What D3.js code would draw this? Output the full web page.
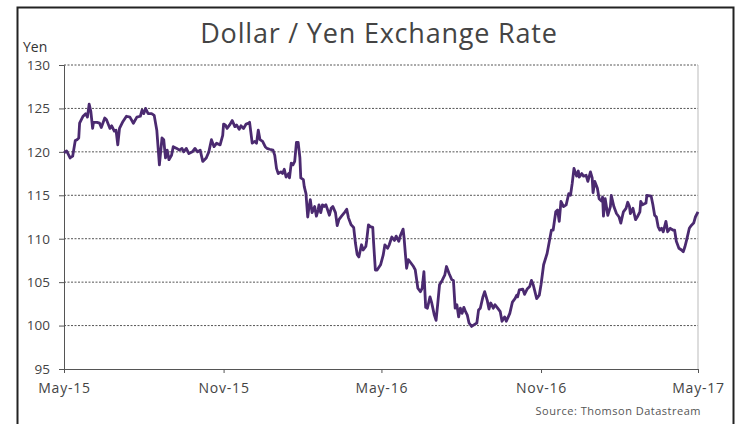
<!DOCTYPE html>
<html>
<head>
<meta charset="utf-8">
<script src="https://cdn.jsdelivr.net/npm/d3@7"></script>
<style>
  body { margin: 0; background: #fff; }
  svg { display: block; font-family: "Open Sans", Lato, sans-serif; }
</style>
</head>
<body>
<div id="chart"></div>
<script>
// USD/JPY
const dates = [
  "2015-05-01","2015-05-04","2015-05-08","2015-05-11","2015-05-14","2015-05-16","2015-05-18","2015-05-19",
  "2015-05-23","2015-05-26","2015-05-28","2015-05-30","2015-06-01","2015-06-03","2015-06-04","2015-06-08",
  "2015-06-11","2015-06-13","2015-06-17","2015-06-19","2015-06-23","2015-06-25","2015-06-28","2015-06-30",
  "2015-07-02","2015-07-04","2015-07-08","2015-07-12","2015-07-16","2015-07-20","2015-07-24","2015-07-28",
  "2015-07-30","2015-08-01","2015-08-03","2015-08-06","2015-08-10","2015-08-13","2015-08-16","2015-08-19",
  "2015-08-22","2015-08-24","2015-08-26","2015-08-28","2015-08-30","2015-09-02","2015-09-04","2015-09-08",
  "2015-09-11","2015-09-14","2015-09-16","2015-09-19","2015-09-22","2015-09-26","2015-09-29","2015-10-02",
  "2015-10-05","2015-10-08","2015-10-12","2015-10-15","2015-10-18","2015-10-21","2015-10-24","2015-10-28",
  "2015-10-31","2015-11-01","2015-11-03","2015-11-05","2015-11-08","2015-11-11","2015-11-14","2015-11-16",
  "2015-11-19","2015-11-21","2015-11-24","2015-11-27","2015-11-30","2015-12-01","2015-12-04","2015-12-07",
  "2015-12-09","2015-12-11","2015-12-13","2015-12-16","2015-12-19","2015-12-21","2015-12-24","2015-12-28",
  "2015-12-30","2016-01-01","2016-01-03","2016-01-06","2016-01-08","2016-01-10","2016-01-12","2016-01-15",
  "2016-01-16","2016-01-18","2016-01-20","2016-01-22","2016-01-24","2016-01-26","2016-01-28","2016-01-29",
  "2016-02-01","2016-02-02","2016-02-04","2016-02-06","2016-02-07","2016-02-09","2016-02-11","2016-02-14",
  "2016-02-16","2016-02-18","2016-02-19","2016-02-21","2016-02-23","2016-02-25","2016-02-27","2016-02-29",
  "2016-03-02","2016-03-04","2016-03-06","2016-03-09","2016-03-11","2016-03-13","2016-03-16","2016-03-20",
  "2016-03-22","2016-03-24","2016-03-27","2016-03-30","2016-04-01","2016-04-03","2016-04-05","2016-04-08",
  "2016-04-10","2016-04-13","2016-04-14","2016-04-16","2016-04-18","2016-04-21","2016-04-22","2016-04-24",
  "2016-04-26","2016-04-30","2016-05-03","2016-05-05","2016-05-08","2016-05-10","2016-05-13","2016-05-16",
  "2016-05-18","2016-05-21","2016-05-23","2016-05-26","2016-05-27","2016-05-30","2016-06-01","2016-06-04",
  "2016-06-07","2016-06-09","2016-06-12","2016-06-15","2016-06-17","2016-06-19","2016-06-21","2016-06-23",
  "2016-06-26","2016-06-28","2016-07-01","2016-07-03","2016-07-05","2016-07-07","2016-07-10","2016-07-13",
  "2016-07-15","2016-07-18","2016-07-21","2016-07-23","2016-07-25","2016-07-27","2016-07-29","2016-07-31",
  "2016-08-02","2016-08-04","2016-08-06","2016-08-08","2016-08-10","2016-08-13","2016-08-16","2016-08-19",
  "2016-08-21","2016-08-23","2016-08-26","2016-08-28","2016-08-31","2016-09-02","2016-09-04","2016-09-07",
  "2016-09-09","2016-09-12","2016-09-15","2016-09-17","2016-09-20","2016-09-22","2016-09-26","2016-09-29",
  "2016-10-02","2016-10-04","2016-10-05","2016-10-07","2016-10-11","2016-10-13","2016-10-16","2016-10-19",
  "2016-10-21","2016-10-23","2016-10-27","2016-10-30","2016-11-01","2016-11-04","2016-11-08","2016-11-11",
  "2016-11-13","2016-11-15","2016-11-18","2016-11-20","2016-11-22","2016-11-24","2016-11-27","2016-11-30",
  "2016-12-03","2016-12-05","2016-12-07","2016-12-09","2016-12-12","2016-12-14","2016-12-15","2016-12-18",
  "2016-12-20","2016-12-23","2016-12-25","2016-12-28","2016-12-30","2016-12-31","2017-01-02","2017-01-05",
  "2017-01-07","2017-01-10","2017-01-11","2017-01-12","2017-01-14","2017-01-17","2017-01-20","2017-01-21",
  "2017-01-24","2017-01-27","2017-01-30","2017-02-01","2017-02-04","2017-02-07","2017-02-09","2017-02-11",
  "2017-02-12","2017-02-15","2017-02-18","2017-02-20","2017-02-23","2017-02-24","2017-02-26","2017-03-02",
  "2017-03-03","2017-03-08","2017-03-10","2017-03-12","2017-03-14","2017-03-16","2017-03-18","2017-03-20",
  "2017-03-22","2017-03-25","2017-03-27","2017-03-30","2017-04-02","2017-04-04","2017-04-06","2017-04-09",
  "2017-04-12","2017-04-14","2017-04-16","2017-04-18","2017-04-21","2017-04-23","2017-04-26","2017-04-28",
  "2017-05-01"
];
const yen = [
  119.9,120.1,119.3,119.5,121.3,121.4,121.6,123.3,
  124.1,124.4,124.0,125.5,124.6,122.7,123.4,123.4,
  123.3,122.8,123.9,123.7,122.7,123.0,122.4,122.5,
  120.8,122.7,123.5,124.1,124.0,123.3,124.0,124.1,
  124.8,124.4,125.0,124.4,124.4,124.2,122.5,118.5,
  121.6,121.4,119.3,120.2,119.1,119.6,120.6,120.4,
  120.2,120.4,120.0,120.4,119.8,120.0,120.4,120.0,
  120.2,118.9,119.3,120.0,121.4,120.6,121.0,120.8,
  121.9,123.2,123.1,122.7,123.1,123.6,122.9,123.1,
  122.6,123.0,122.7,123.2,123.3,123.4,121.0,121.2,
  121.0,122.5,121.4,121.2,120.6,120.4,120.3,120.2,
  119.6,118.1,117.5,117.7,117.5,118.0,117.1,117.5,
  117.0,118.7,118.5,118.9,121.1,121.1,119.3,117.0,
  116.8,116.0,115.2,112.5,113.3,114.5,113.0,113.7,
  112.6,113.3,113.9,113.0,113.9,113.7,113.9,113.3,
  112.7,113.5,113.7,113.0,111.5,112.2,112.6,113.1,
  113.4,112.4,111.6,111.3,109.5,108.2,107.9,109.3,
  108.7,109.1,109.8,111.6,111.4,111.3,109.5,106.4,
  106.4,107.0,108.1,109.3,108.9,109.3,110.2,109.8,
  110.3,109.7,110.4,111.1,110.2,106.6,107.6,107.2,
  106.8,106.4,104.3,103.9,104.3,106.2,102.1,102.0,
  103.3,102.6,101.2,100.6,102.6,104.7,105.2,105.8,
  106.8,106.0,105.3,105.2,102.0,102.4,101.0,102.0,
  101.4,102.1,101.6,101.2,100.3,99.9,100.1,100.3,
  101.8,102.0,103.3,103.9,102.9,101.9,102.6,102.0,
  102.4,102.0,101.6,100.5,101.0,100.5,101.4,102.7,
  103.1,103.5,103.3,104.1,104.2,103.6,104.2,104.5,
  105.2,104.7,103.1,103.5,104.7,107.0,108.3,109.9,
  111.0,111.0,113.1,113.3,112.0,114.3,113.7,113.9,
  115.2,115.0,116.4,118.1,117.2,117.8,117.1,117.5,
  117.2,117.3,116.6,117.7,117.0,115.3,116.6,115.8,
  114.6,114.3,114.8,112.6,114.6,112.7,113.7,115.0,
  113.7,112.9,112.5,111.8,113.1,113.5,114.2,113.7,
  112.9,113.5,112.2,112.5,113.1,114.3,113.9,114.1,
  115.0,114.9,113.9,112.7,112.5,111.4,111.0,111.2,
  110.8,112.0,110.8,111.2,111.0,111.0,109.7,108.9,
  108.7,108.5,109.1,109.9,111.2,111.5,111.8,112.5,
  113.1
];
const yTicks = [95, 100, 105, 110, 115, 120, 125, 130];
const xTickDates = ["2015-05-01","2015-11-01","2016-05-01","2016-11-01","2017-05-01"];

const parse = d3.timeParse("%Y-%m-%d");
const data = dates.map((d, i) => ({ date: parse(d), value: yen[i] }));

const W = 740, H = 424;
const margin = { top: 65, right: 42, bottom: 55, left: 64 };
const width = W - margin.left - margin.right;
const height = H - margin.top - margin.bottom;

const svg = d3.select("#chart").append("svg")
  .attr("width", W)
  .attr("height", H);

// outer frame
svg.append("rect")
  .attr("x", 17.5).attr("y", 7.5)
  .attr("width", 716).attr("height", 430)
  .attr("fill", "none")
  .attr("stroke", "#222")
  .attr("stroke-width", 2);

svg.append("text")
  .attr("x", 379).attr("y", 43)
  .attr("text-anchor", "middle")
  .style("font-size", "27px")
  .style("letter-spacing", "0.8px")
  .style("fill", "#444")
  .text("Dollar / Yen Exchange Rate");

svg.append("text")
  .attr("x", 23).attr("y", 52)
  .style("font-size", "14px")
  .style("fill", "#333")
  .text("Yen");

const g = svg.append("g")
  .attr("transform", `translate(${margin.left},${margin.top})`);

const x = d3.scaleTime()
  .domain([parse(xTickDates[0]), parse(xTickDates[xTickDates.length - 1])])
  .range([0, width]);

const y = d3.scaleLinear()
  .domain([95, 130])
  .range([height, 0]);

// gridlines
g.append("g")
  .selectAll("line")
  .data(yTicks.filter(t => t > 95))
  .enter().append("line")
  .attr("x1", 0).attr("x2", width)
  .attr("y1", d => y(d)).attr("y2", d => y(d))
  .attr("stroke", "#555")
  .attr("stroke-width", 1)
  .attr("stroke-dasharray", "2,1.5");

// right edge
g.append("line")
  .attr("x1", width).attr("x2", width)
  .attr("y1", 0).attr("y2", height)
  .attr("stroke", "#bbb");

const yAxis = g.append("g")
  .call(d3.axisLeft(y).tickValues(yTicks).tickSize(5).tickPadding(9));
yAxis.select(".domain").attr("stroke", "#555");
yAxis.selectAll(".tick line").attr("stroke", "#555");
yAxis.selectAll("text")
  .style("font-size", "13.5px")
  .style("font-family", "'Open Sans', sans-serif")
  .style("fill", "#444");

const xAxis = g.append("g")
  .attr("transform", `translate(0,${height})`)
  .call(d3.axisBottom(x)
    .tickValues(xTickDates.map(parse))
    .tickFormat(d3.timeFormat("%b-%y"))
    .tickSize(4).tickPadding(10));
xAxis.select(".domain").attr("stroke", "#555");
xAxis.selectAll(".tick line").attr("stroke", "#555");
xAxis.selectAll("text")
  .style("font-size", "14px")
  .style("letter-spacing", "0.8px")
  .style("font-family", "'Open Sans', sans-serif")
  .style("fill", "#444");

const line = d3.line()
  .x(d => x(d.date))
  .y(d => y(d.value));

g.append("path")
  .datum(data)
  .attr("fill", "none")
  .attr("stroke", "#4b2a70")
  .attr("stroke-width", 2.8)
  .attr("stroke-linejoin", "round")
  .attr("d", line);

svg.append("text")
  .attr("x", 701).attr("y", 415)
  .attr("text-anchor", "end")
  .style("font-size", "11px")
  .style("letter-spacing", "0.5px")
  .style("fill", "#555")
  .text("Source: Thomson Datastream");
</script>
</body>
</html>
